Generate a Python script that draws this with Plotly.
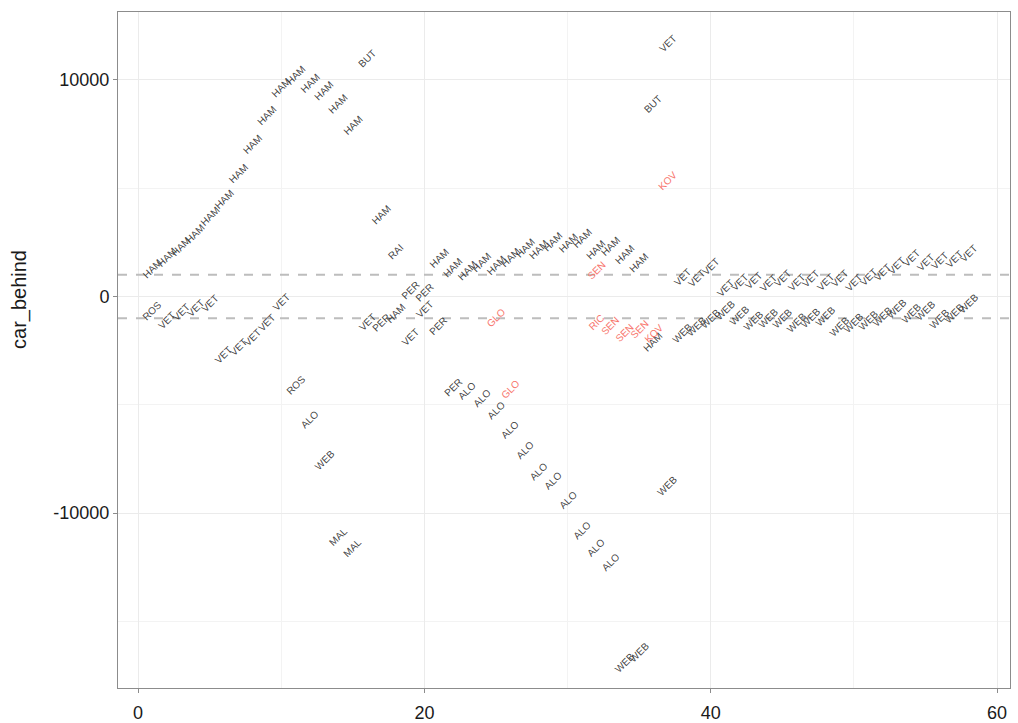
import plotly.graph_objects as go

# Car directly ahead (positive gap, ms) for each lap
ahead_laps = list(range(1, 59))
ahead_gaps = [1300, 1800, 2300, 2900, 3700, 4500, 5700, 7000, 8350, 9650,
              10200, 9850, 9500, 8900, 7900, 11000, 3800, 2100, 300, 200,
              1770, 1320, 1220, 1550, 1450, 1820, 2240, 2150, 2520, 2470,
              2700, 2150, 2290, 1920, 1550, 8900, 11700, 880, 830, 1390,
              370, 650, 740, 600, 830, 650, 830, 650, 830, 650,
              880, 1100, 1430, 1750, 1570, 1660, 1700, 1990]
ahead_drivers = ["HAM"] * 15 + ["BUT", "HAM", "RAI", "PER", "PER"] + ["HAM"] * 15 + \
                ["BUT", "VET"] + ["VET"] * 21

# Car directly behind (negative gap, ms) for each lap
behind_laps = list(range(1, 59))
behind_gaps = [-650, -1100, -750, -550, -300, -2700, -2350, -1900, -1200, -280,
               -4100, -5700, -7550, -11100, -11600, -1200, -1200, -800, -1900, -600,
               -1350, -4200, -4350, -4700, -5250, -6150, -7100, -8100, -8500, -9400,
               -10800, -11600, -12300, -16900, -16450, -2100, -8750, -1700, -1390, -1020,
               -650, -880, -1110, -1020, -1020, -1200, -970, -920, -1390, -1200,
               -1110, -920, -550, -790, -650, -1020, -790, -320]
behind_drivers = ["ROS"] + ["VET"] * 9 + ["ROS", "ALO", "WEB", "MAL", "MAL", "VET", "PER", "HAM",
                  "VET", "VET", "PER", "PER"] + ["ALO"] * 11 + ["WEB", "WEB", "HAM", "WEB"] + \
                 ["WEB"] * 21

# Lapped traffic
lapped_laps = [25, 26, 32, 32, 33, 34, 35, 36, 37]
lapped_gaps = [-950, -4300, 1220, -1200, -1350, -1650, -1500, -1700, 5350]
lapped_drivers = ["GLO", "GLO", "SEN", "RIC", "SEN", "SEN", "SEN", "KOV", "KOV"]

# One-second window around the car
window = [1000, -1000]

x_ticks = [0, 20, 40, 60]
y_ticks = [-10000, 0, 10000]

fig = go.Figure()

# Invisible trace so the axes are set up on the data
fig.add_trace(go.Scatter(x=ahead_laps + behind_laps, y=ahead_gaps + behind_gaps,
                         mode="markers", marker=dict(opacity=0), hoverinfo="skip",
                         showlegend=False))

dark = "rgba(45,45,45,0.9)"
red = "#F8766D"
label_font = "Liberation Sans, Arial, sans-serif"

def add_labels(laps, gaps, names, colour):
    for lap, gap, name in zip(laps, gaps, names):
        fig.add_annotation(x=lap, y=gap, xref="x", yref="y", text=name,
                           showarrow=False, textangle=-45,
                           xanchor="center", yanchor="middle",
                           font=dict(family=label_font, size=10, color=colour))

add_labels(ahead_laps, ahead_gaps, ahead_drivers, dark)
add_labels(behind_laps, behind_gaps, behind_drivers, dark)
add_labels(lapped_laps, lapped_gaps, lapped_drivers, red)

for level in window:
    fig.add_hline(y=level, line=dict(color="#bdbdbd", width=2, dash="dash"))

axis_common = dict(
    showline=True, mirror=True, linecolor="#8c8c8c", linewidth=1,
    showgrid=True, gridcolor="#ebebeb", gridwidth=1,
    zeroline=False, ticks="outside", ticklen=4, tickcolor="#8c8c8c",
    tickfont=dict(family=label_font, size=18, color="#1a1a1a"),
    automargin=False,
)

fig.update_xaxes(range=[-1.4, 60.9], tickvals=x_ticks, ticklabelstandoff=4,
                 minor=dict(dtick=10, tick0=0, showgrid=True, gridcolor="#f3f3f3", gridwidth=1),
                 **axis_common)
fig.update_yaxes(range=[-18080, 13140], tickvals=y_ticks,
                 ticktext=[str(v) for v in y_ticks],
                 minor=dict(dtick=5000, tick0=0, showgrid=True, gridcolor="#f3f3f3", gridwidth=1),
                 **axis_common)

# Y axis title
fig.add_annotation(text="car_behind", xref="paper", yref="paper", x=0, y=0.574,
                   xanchor="center", yanchor="middle", xshift=-98, textangle=-90,
                   showarrow=False,
                   font=dict(family=label_font, size=20, color="#1a1a1a"))

fig.update_layout(
    width=1018, height=723,
    margin=dict(l=118, r=8, t=12, b=35),
    plot_bgcolor="white", paper_bgcolor="white",
    showlegend=False,
)

fig.write_html("out.html")
